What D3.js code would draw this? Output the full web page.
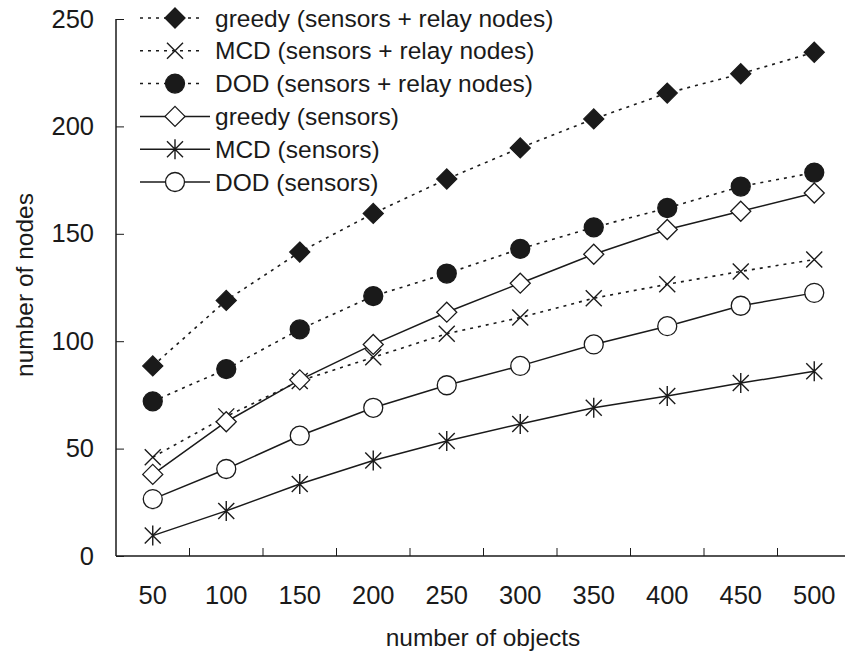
<!DOCTYPE html>
<html>
<head>
<meta charset="utf-8">
<script src="https://cdn.jsdelivr.net/npm/d3@7"></script>
<style>
    body { margin: 0; background: #fff; }
    svg { display: block; font-family: Arial, "Liberation Sans", sans-serif; }
</style>
</head>
<body>
<div class="chart"></div>
<script>
// categories (number of objects)
let categories = [50, 100, 150, 200, 250, 300, 350, 400, 450, 500];
let yTicks = [0, 50, 100, 150, 200, 250];

// series values
let greedyAll = [88.5, 119, 141.5, 159.5, 175.5, 190, 203.5, 215.5, 224.5, 234.5];
let mcdAll = [46, 65, 81.5, 92.5, 103.5, 111, 120, 126.5, 132.5, 138];
let dodAll = [72, 87, 105.5, 121, 131.5, 143, 153, 162, 172, 178.5];
let greedySensors = [38, 62.5, 82, 98.5, 113.5, 127, 140.5, 152, 160.5, 169];
let mcdSensors = [9.5, 21, 33.5, 44.5, 53.5, 61.5, 69, 74.5, 80.5, 86];
let dodSensors = [26.5, 40.5, 56, 69, 79.5, 88.5, 98.5, 107, 116.5, 122.5];

let seriesNames = [
    "greedy (sensors + relay nodes)",
    "MCD (sensors + relay nodes)",
    "DOD (sensors + relay nodes)",
    "greedy (sensors)",
    "MCD (sensors)",
    "DOD (sensors)"
];
let seriesValues = [greedyAll, mcdAll, dodAll, greedySensors, mcdSensors, dodSensors];
let seriesDashed = [true, true, true, false, false, false];
let seriesMarker = ["diamondFilled", "cross", "circleFilled", "diamondOpen", "asterisk", "circleOpen"];

let ink = "#1a1a1a";
let fontFamily = "Arial, 'Liberation Sans', sans-serif";

let svg = d3.select(".chart").append("svg")
    .attr("width", 845).attr("height", 658);

let margin = {top: 19, left: 116, bottom: 102},
    plotWidth = 735,
    plotHeight = 658 - margin.top - margin.bottom;

let g = svg.append("g").attr("transform", "translate(" + margin.left + "," + margin.top + ")");

let x = d3.scaleBand().domain(categories).range([0, plotWidth]);
let y = d3.scaleLinear().domain([0, 250]).range([plotHeight, 0]);

// axes: ticks pointing inward
let xAxis = g.append("g")
    .attr("transform", "translate(0," + plotHeight + ")")
    .call(d3.axisBottom(x).tickSize(0).tickPadding(30));
xAxis.select(".domain").remove();
xAxis.selectAll("text").attr("font-size", "25.5px").attr("fill", ink).attr("font-family", fontFamily);

// category boundary ticks
g.append("g").selectAll("line")
    .data(categories.slice(1))
    .enter().append("line")
    .attr("x1", function (d) { return x(d); })
    .attr("x2", function (d) { return x(d); })
    .attr("y1", plotHeight).attr("y2", plotHeight - 8)
    .attr("stroke", ink).attr("stroke-width", 1);

g.append("line")
    .attr("x1", 0).attr("x2", plotWidth)
    .attr("y1", plotHeight).attr("y2", plotHeight)
    .attr("stroke", ink).attr("stroke-width", 1.5);

let yAxis = g.append("g")
    .call(d3.axisLeft(y).tickValues(yTicks).tickSize(-8).tickPadding(22));
yAxis.select(".domain").attr("stroke", ink).attr("stroke-width", 1.5).attr("d", "M0," + plotHeight + "V0");
yAxis.selectAll(".tick line").attr("stroke", ink);
yAxis.selectAll("text").attr("font-size", "25.5px").attr("fill", ink).attr("font-family", fontFamily);

// axis titles
svg.append("text")
    .attr("x", 483).attr("y", 646)
    .attr("text-anchor", "middle")
    .attr("font-size", "24.5px").attr("fill", ink)
    .text("number of objects");

svg.append("text")
    .attr("transform", "translate(33,285) rotate(-90)")
    .attr("text-anchor", "middle")
    .attr("font-size", "24.5px").attr("fill", ink)
    .text("number of nodes");

function drawMarker(sel, type) {
    if (type === "diamondFilled" || type === "diamondOpen") {
        sel.append("path").attr("d", "M0,-10L10,0L0,10L-10,0Z")
            .attr("fill", type === "diamondFilled" ? ink : "#fff")
            .attr("stroke", ink).attr("stroke-width", 1.3);
    } else if (type === "circleFilled" || type === "circleOpen") {
        sel.append("circle").attr("r", 9.5)
            .attr("fill", type === "circleFilled" ? ink : "#fff")
            .attr("stroke", ink).attr("stroke-width", 1.3);
    } else if (type === "cross") {
        sel.append("path").attr("d", "M-8,-8L8,8M-8,8L8,-8")
            .attr("stroke", ink).attr("stroke-width", 1.4).attr("fill", "none");
    } else if (type === "asterisk") {
        sel.append("path").attr("d", "M-8,-8L8,8M-8,8L8,-8M0,-10V10")
            .attr("stroke", ink).attr("stroke-width", 1.4).attr("fill", "none");
    }
}

let line = d3.line()
    .x(function (d, i) { return x(categories[i]) + x.bandwidth() / 2; })
    .y(function (d) { return y(d); });

for (let s = 0; s < seriesValues.length; s++) {
    g.append("path")
        .datum(seriesValues[s])
        .attr("d", line)
        .attr("fill", "none")
        .attr("stroke", ink)
        .attr("stroke-width", seriesDashed[s] ? 1.6 : 1.5)
        .attr("stroke-dasharray", seriesDashed[s] ? "3,5" : null);
}

for (let s = 0; s < seriesValues.length; s++) {
    g.append("g").selectAll("g")
        .data(seriesValues[s])
        .enter().append("g")
        .attr("transform", function (d, i) {
            return "translate(" + (x(categories[i]) + x.bandwidth() / 2) + "," + y(d) + ")";
        })
        .each(function () { drawMarker(d3.select(this), seriesMarker[s]); });
}

// legend
let legend = svg.append("g");
for (let s = 0; s < seriesNames.length; s++) {
    let ly = 18 + s * 32.8;
    let item = legend.append("g").attr("transform", "translate(0," + ly + ")");
    item.append("line")
        .attr("x1", 140).attr("x2", seriesDashed[s] ? 204 : 210).attr("y1", 0).attr("y2", 0)
        .attr("stroke", ink).attr("stroke-width", 1.5)
        .attr("stroke-dasharray", seriesDashed[s] ? "3,5" : null);
    let m = item.append("g").attr("transform", "translate(175,0)");
    drawMarker(m, seriesMarker[s]);
    item.append("text")
        .attr("x", 215).attr("y", 8.5)
        .attr("font-size", "24.5px").attr("fill", ink)
        .text(seriesNames[s]);
}
</script>
</body>
</html>
